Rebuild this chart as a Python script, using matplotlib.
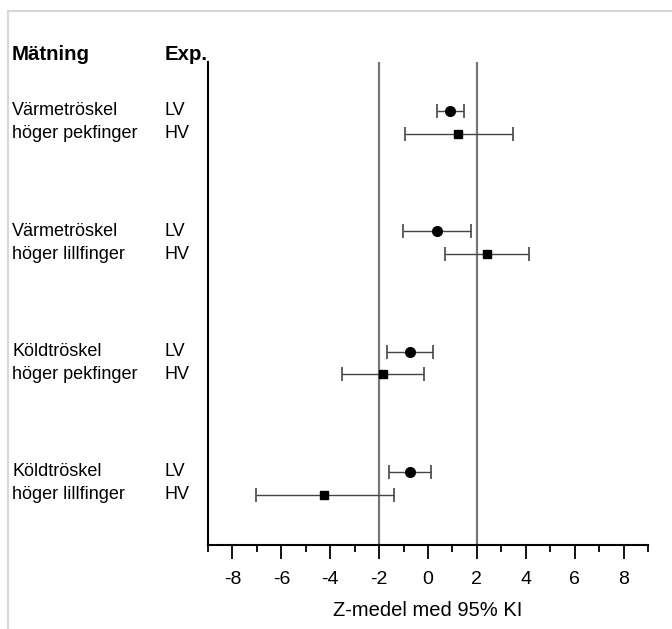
import numpy as np
import matplotlib.pyplot as plt
from matplotlib.lines import Line2D

plt.rcParams['font.family'] = ['Liberation Sans', 'DejaVu Sans']
plt.rcParams['axes.unicode_minus'] = False

matning = ['Värmetröskel\nhöger pekfinger', 'Värmetröskel\nhöger lillfinger',
           'Köldtröskel\nhöger pekfinger', 'Köldtröskel\nhöger lillfinger']
lv_mean = [0.90, 0.37, -0.74, -0.74]
lv_low = [0.37, -1.02, -1.68, -1.60]
lv_high = [1.48, 1.76, 0.20, 0.12]
hv_mean = [1.23, 2.42, -1.84, -4.26]
hv_low = [-0.94, 0.70, -3.52, -7.05]
hv_high = [3.48, 4.14, -0.16, -1.39]

fig = plt.figure(figsize=(6.72, 6.29), dpi=100)
ax = fig.add_axes([208 / 672, 1 - 545 / 629, (648 - 208) / 672, (545 - 62) / 629])

g = np.arange(len(matning))
y_lv = g
y_hv = g + 0.19

lv_mean = np.array(lv_mean)
hv_mean = np.array(hv_mean)
err_lv = [lv_mean - np.array(lv_low), np.array(lv_high) - lv_mean]
err_hv = [hv_mean - np.array(hv_low), np.array(hv_high) - hv_mean]

ax.axvline(-2, color='#777777', lw=1.6, zorder=1)
ax.axvline(2, color='#777777', lw=1.6, zorder=1)

ax.errorbar(lv_mean, y_lv, xerr=err_lv, fmt='o', color='black', ms=7,
            ecolor='#444444', elinewidth=1.0, capsize=5, capthick=1.2, zorder=3)
ax.errorbar(hv_mean, y_hv, xerr=err_hv, fmt='s', color='black', ms=5.7,
            ecolor='#444444', elinewidth=1.0, capsize=5, capthick=1.2, zorder=3)

ax.set_xlim(-9, 9)
ax.set_ylim(3.608, -0.407)
ax.set_yticks([])
ax.set_xticks(np.arange(-8, 9, 2))
ax.set_xticks(np.arange(-9, 10, 2), minor=True)
ax.tick_params(axis='x', which='major', length=10, width=1.3, labelsize=14, pad=9)
ax.tick_params(axis='x', which='minor', length=5, width=1.3)
ax.spines['top'].set_visible(False)
ax.spines['right'].set_visible(False)
ax.spines['left'].set_linewidth(1.5)
ax.spines['bottom'].set_linewidth(1.5)
ax.set_xlabel('Z-medel med 95% KI', fontsize=14.5, labelpad=9)

fig.text(12 / 672, 1 - 55 / 629, 'Mätning', fontsize=14.7, fontweight='bold', va='center')
fig.text(165 / 672, 1 - 55 / 629, 'Exp.', fontsize=14.7, fontweight='bold', va='center')

tr = ax.get_yaxis_transform()
for i, lab in enumerate(matning):
    top, bottom = lab.split('\n')
    ax.text(-0.445, y_lv[i], top, transform=tr, fontsize=13, va='center')
    ax.text(-0.445, y_hv[i], bottom, transform=tr, fontsize=13, va='center')
    ax.text(-0.098, y_lv[i], 'LV', transform=tr, fontsize=13, va='center')
    ax.text(-0.098, y_hv[i], 'HV', transform=tr, fontsize=13, va='center')

# light frame around the figure
fig.add_artist(Line2D([8 / 672, 8 / 672], [0, 1 - 11 / 629], color='#d8d8d8', lw=1.5))
fig.add_artist(Line2D([8 / 672, 1], [1 - 11 / 629, 1 - 11 / 629], color='#d8d8d8', lw=1.5))

fig.savefig('out.png', dpi=100)
